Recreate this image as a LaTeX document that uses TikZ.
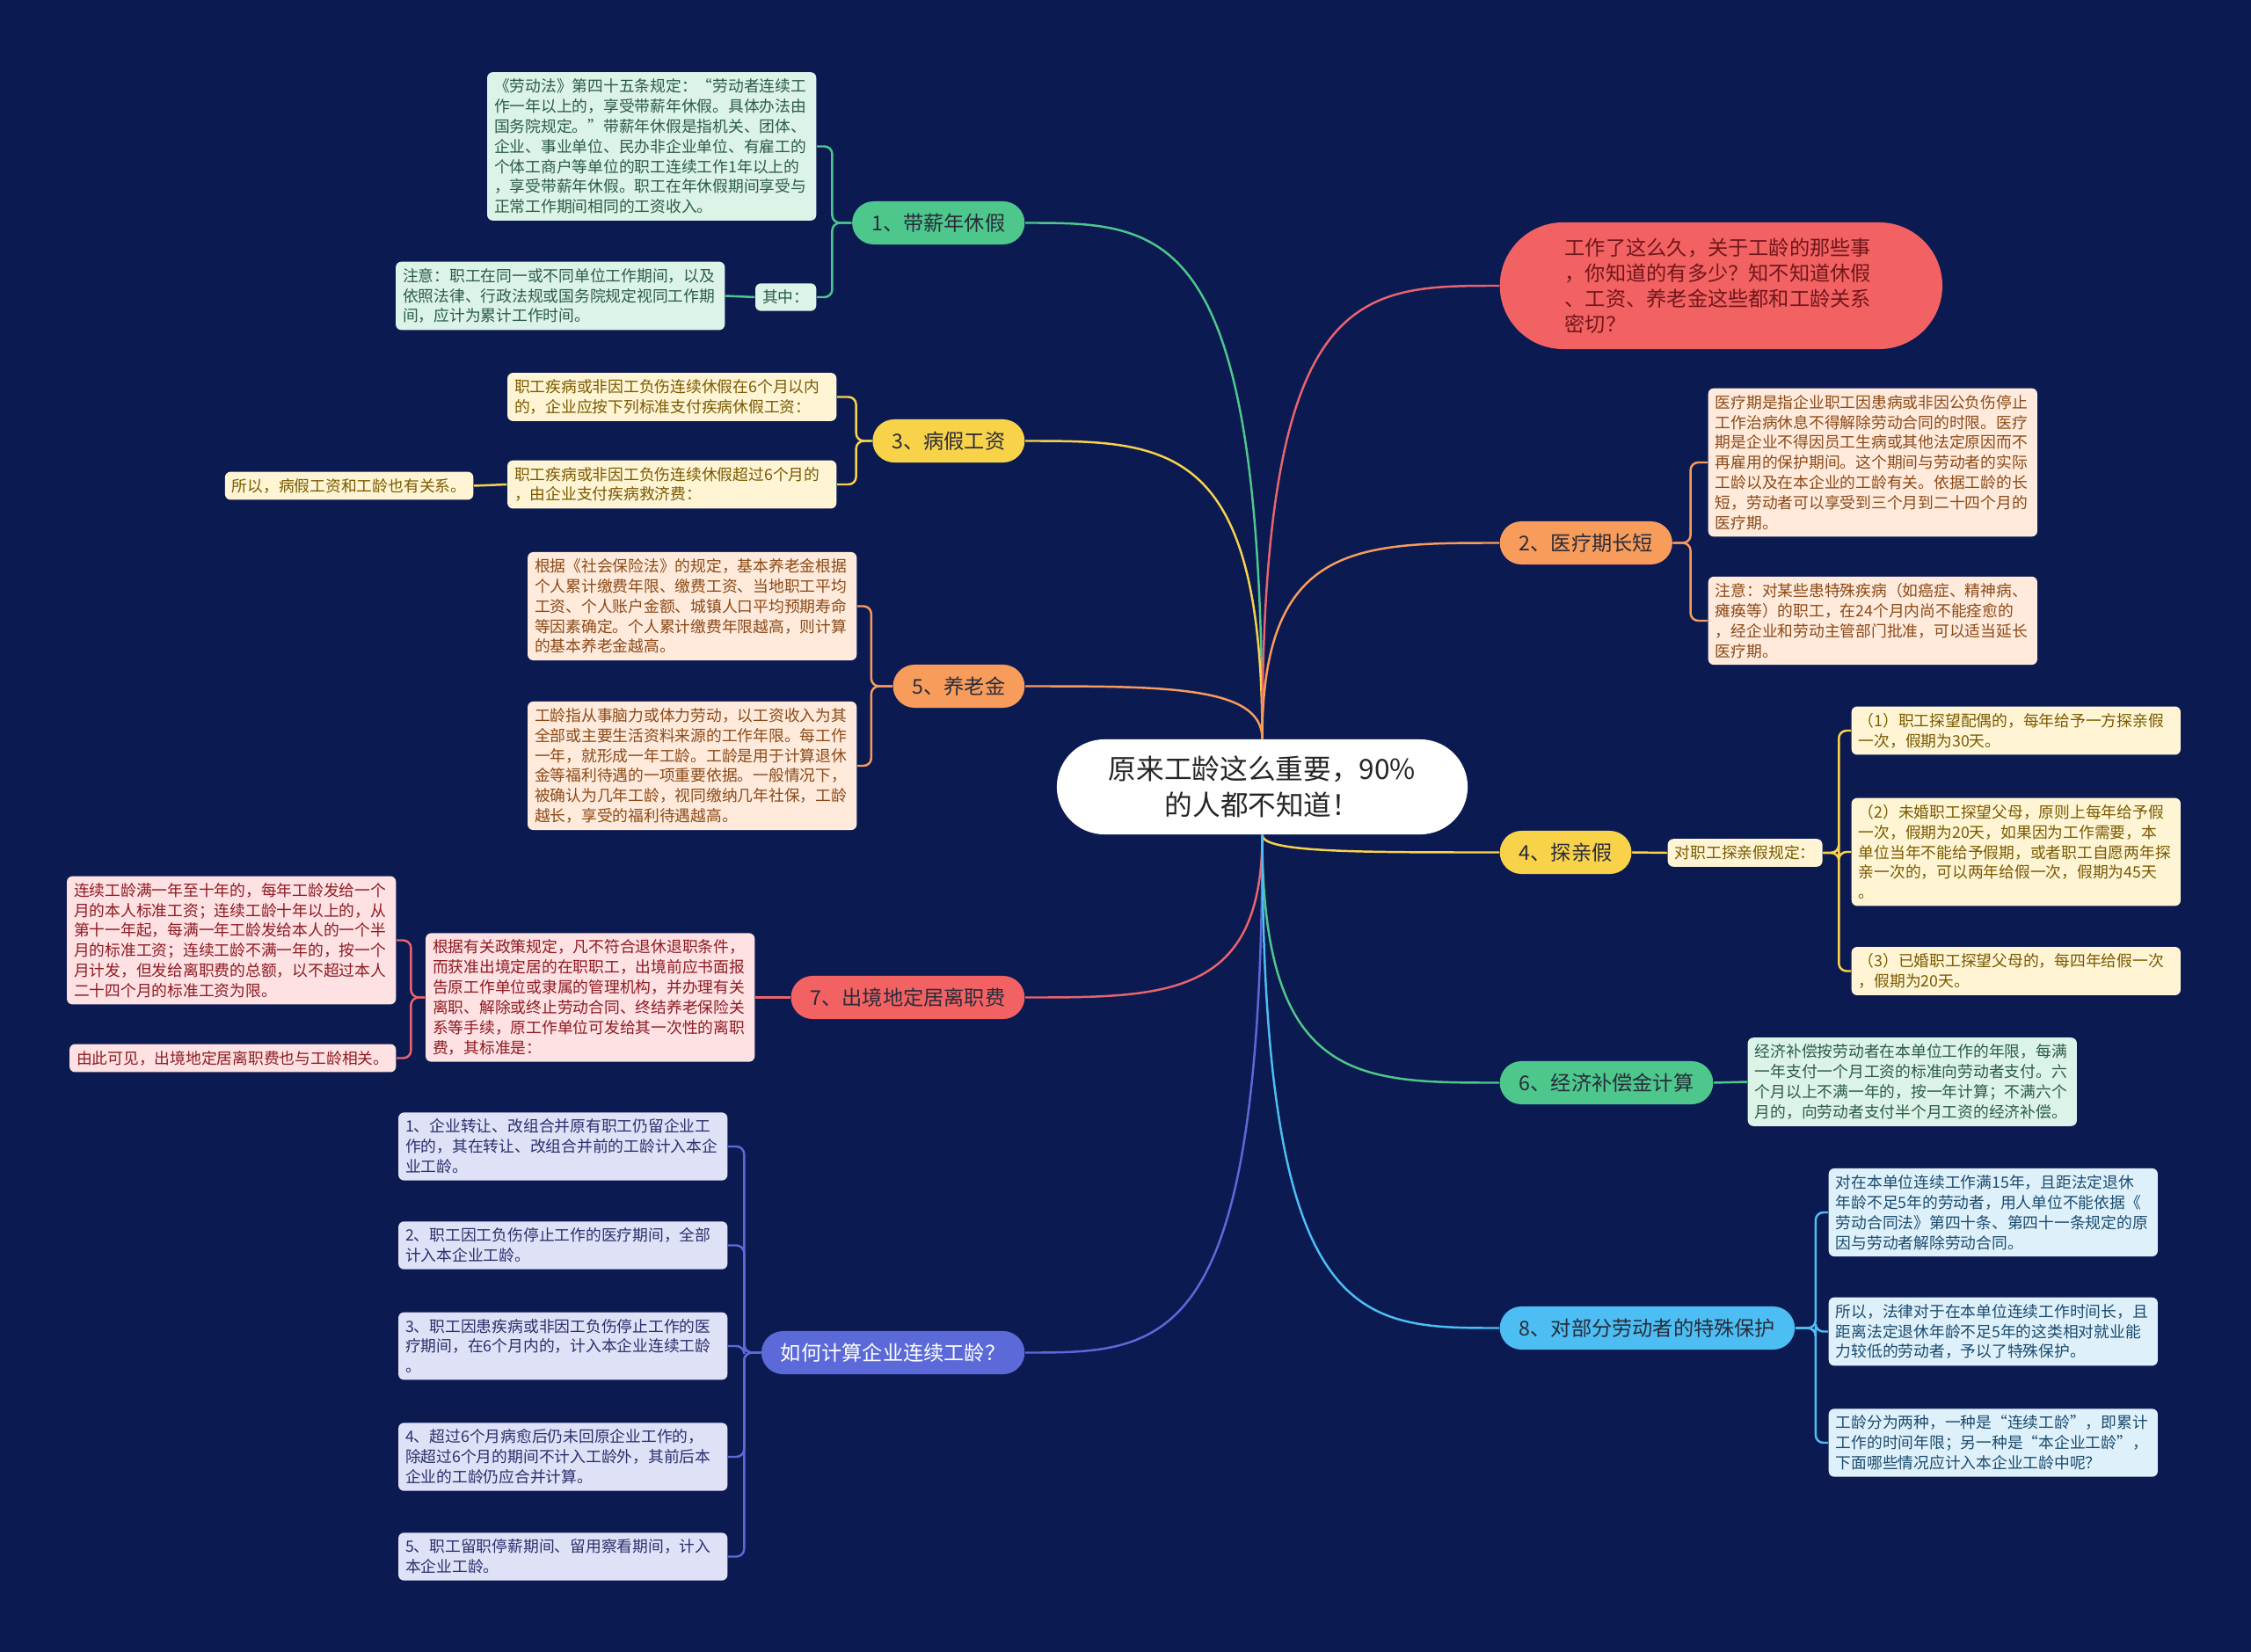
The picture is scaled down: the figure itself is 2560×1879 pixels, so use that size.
\documentclass[tikz,border=0pt]{standalone}
\usepackage{fontspec}
\newfontfamily\cjk{Noto Sans CJK SC}
\usepackage{tikz}
\usetikzlibrary{positioning,calc}
\definecolor{bgnavy}{HTML}{0C1A52}
\definecolor{mint}{HTML}{4DC78C}
\definecolor{mintpale}{HTML}{DCF4E8}
\definecolor{mintink}{HTML}{2C5B47}
\definecolor{sun}{HTML}{F8D34A}
\definecolor{sunpale}{HTML}{FFF5D5}
\definecolor{sunink}{HTML}{7A5A00}
\definecolor{apricot}{HTML}{F89C5C}
\definecolor{apricotpale}{HTML}{FFEADC}
\definecolor{apricotink}{HTML}{8B4A17}
\definecolor{coral}{HTML}{F26262}
\definecolor{coralline}{HTML}{E8646E}
\definecolor{coralpale}{HTML}{FDE1E3}
\definecolor{coralink}{HTML}{8E1B22}
\definecolor{iris}{HTML}{5B6AD8}
\definecolor{irispale}{HTML}{DFE2F7}
\definecolor{irisink}{HTML}{2A2F6C}
\definecolor{sky}{HTML}{4DBEF3}
\definecolor{skypale}{HTML}{DEF1FB}
\definecolor{skyink}{HTML}{1B4B6E}
\definecolor{pillink}{HTML}{2A2B3A}

\begin{document}
\begin{tikzpicture}[x=0.01cm, y=-0.01cm,
    leaf/.style={rounded corners=1.8pt, inner xsep=0.08cm, inner ysep=0.075cm, align=left, text width=3.58cm, font=\cjk\fontsize{5.05}{6.5}\selectfont},
    tag/.style={rounded corners=1.8pt, inner xsep=0.08cm, inner ysep=0.075cm, align=left, font=\cjk\fontsize{5.05}{6.5}\selectfont},
    pill/.style={rounded corners=0.245cm, minimum height=0.49cm, inner xsep=0.22cm, inner ysep=0pt, font=\cjk\fontsize{6.6}{8}\selectfont, text=pillink},
    link/.style={line width=0.7pt},
    bracket/.style={line width=0.7pt, rounded corners=2.5pt}]
\useasboundingbox (0,0) rectangle (2560,1879);
\fill[bgnavy] (0,0) rectangle (2560,1879);

% Center
\node[fill=white, rounded corners=0.54cm, minimum width=4.67cm, minimum height=1.08cm, align=center, text=black!85, font=\cjk\fontsize{9}{11.7}\selectfont] (ctr) at (1435.5,895) {原来工龄这么重要，90\%\\的人都不知道！};

% Left branches
\node[pill, fill=mint, anchor=east] (b1) at (1166,253.5) {1、带薪年休假};
\node[pill, fill=sun, anchor=east] (b3) at (1166,501.5) {3、病假工资};
\node[pill, fill=apricot, anchor=east] (b5) at (1166,780.5) {5、养老金};
\node[pill, fill=coral, anchor=east] (b7) at (1166,1134.5) {7、出境地定居离职费};
\node[pill, fill=iris, text=white, anchor=east] (bcalc) at (1166,1538.5) {如何计算企业连续工龄？};

% Right branches
\node[fill=coral, rounded corners=0.72cm, minimum width=5.03cm, minimum height=1.44cm, inner xsep=0.74cm, text width=3.55cm, align=left, text=coralink!80!black, font=\cjk\fontsize{6.6}{8.3}\selectfont, anchor=west] (intro) at (1705,325) {工作了这么久，关于工龄的那些事\\，你知道的有多少？知不知道休假\\、工资、养老金这些都和工龄关系\\密切？};
\node[pill, fill=apricot, anchor=west] (b2) at (1705,617.5) {2、医疗期长短};
\node[pill, fill=sun, anchor=west] (b4) at (1705,969.5) {4、探亲假};
\node[pill, fill=mint, anchor=west] (b6) at (1705,1231.5) {6、经济补偿金计算};
\node[pill, fill=sky, anchor=west] (b8) at (1705,1510.5) {8、对部分劳动者的特殊保护};

% Leaves of 1
\node[leaf, fill=mintpale, text=mintink, anchor=east] (law) at (929,166.5) {《劳动法》第四十五条规定：“劳动者连续工\\作一年以上的，享受带薪年休假。具体办法由\\国务院规定。”带薪年休假是指机关、团体、\\企业、事业单位、民办非企业单位、有雇工的\\个体工商户等单位的职工连续工作1年以上的\\，享受带薪年休假。职工在年休假期间享受与\\正常工作期间相同的工资收入。};
\node[tag, fill=mintpale, text=mintink, anchor=east] (qizhong) at (929,338) {其中：};
\node[leaf, fill=mintpale, text=mintink, anchor=east] (zhuyi) at (825,336.5) {注意：职工在同一或不同单位工作期间，以及\\依照法律、行政法规或国务院规定视同工作期\\间，应计为累计工作时间。};

% Leaves of 3
\node[leaf, fill=sunpale, text=sunink, anchor=east] (sick1) at (952,451.5) {职工疾病或非因工负伤连续休假在6个月以内\\的，企业应按下列标准支付疾病休假工资：};
\node[leaf, fill=sunpale, text=sunink, anchor=east] (sick2) at (952,551) {职工疾病或非因工负伤连续休假超过6个月的\\，由企业支付疾病救济费：};
\node[tag, fill=sunpale, text=sunink, anchor=east] (sickso) at (539,552.5) {所以，病假工资和工龄也有关系。};

% Leaves of 5
\node[leaf, fill=apricotpale, text=apricotink, anchor=east] (pension1) at (975,689.5) {根据《社会保险法》的规定，基本养老金根据\\个人累计缴费年限、缴费工资、当地职工平均\\工资、个人账户金额、城镇人口平均预期寿命\\等因素确定。个人累计缴费年限越高，则计算\\的基本养老金越高。};
\node[leaf, fill=apricotpale, text=apricotink, anchor=east] (pension2) at (975,871) {工龄指从事脑力或体力劳动，以工资收入为其\\全部或主要生活资料来源的工作年限。每工作\\一年，就形成一年工龄。工龄是用于计算退休\\金等福利待遇的一项重要依据。一般情况下，\\被确认为几年工龄，视同缴纳几年社保，工龄\\越长，享受的福利待遇越高。};

% Leaves of 7
\node[leaf, fill=coralpale, text=coralink, anchor=east] (abroad) at (859,1134.5) {根据有关政策规定，凡不符合退休退职条件，\\而获准出境定居的在职职工，出境前应书面报\\告原工作单位或隶属的管理机构，并办理有关\\离职、解除或终止劳动合同、终结养老保险关\\系等手续，原工作单位可发给其一次性的离职\\费，其标准是：};
\node[leaf, fill=coralpale, text=coralink, anchor=east] (abroad1) at (451,1069.5) {连续工龄满一年至十年的，每年工龄发给一个\\月的本人标准工资；连续工龄十年以上的，从\\第十一年起，每满一年工龄发给本人的一个半\\月的标准工资；连续工龄不满一年的，按一个\\月计发，但发给离职费的总额，以不超过本人\\二十四个月的标准工资为限。};
\node[tag, fill=coralpale, text=coralink, anchor=east] (abroad2) at (451,1203.5) {由此可见，出境地定居离职费也与工龄相关。};

% Leaves of calc
\node[leaf, fill=irispale, text=irisink, anchor=east] (calc1) at (828,1304) {1、企业转让、改组合并原有职工仍留企业工\\作的，其在转让、改组合并前的工龄计入本企\\业工龄。};
\node[leaf, fill=irispale, text=irisink, anchor=east] (calc2) at (828,1416.5) {2、职工因工负伤停止工作的医疗期间，全部\\计入本企业工龄。};
\node[leaf, fill=irispale, text=irisink, anchor=east] (calc3) at (828,1531) {3、职工因患疾病或非因工负伤停止工作的医\\疗期间，在6个月内的，计入本企业连续工龄\\。};
\node[leaf, fill=irispale, text=irisink, anchor=east] (calc4) at (828,1657) {4、超过6个月病愈后仍未回原企业工作的，\\除超过6个月的期间不计入工龄外，其前后本\\企业的工龄仍应合并计算。};
\node[leaf, fill=irispale, text=irisink, anchor=east] (calc5) at (828,1770.5) {5、职工留职停薪期间、留用察看期间，计入\\本企业工龄。};

% Leaves of 2
\node[leaf, fill=apricotpale, text=apricotink, anchor=west] (med1) at (1942,526) {医疗期是指企业职工因患病或非因公负伤停止\\工作治病休息不得解除劳动合同的时限。医疗\\期是企业不得因员工生病或其他法定原因而不\\再雇用的保护期间。这个期间与劳动者的实际\\工龄以及在本企业的工龄有关。依据工龄的长\\短，劳动者可以享受到三个月到二十四个月的\\医疗期。};
\node[leaf, fill=apricotpale, text=apricotink, anchor=west] (med2) at (1942,706) {注意：对某些患特殊疾病（如癌症、精神病、\\瘫痪等）的职工，在24个月内尚不能痊愈的\\，经企业和劳动主管部门批准，可以适当延长\\医疗期。};

% Leaves of 4
\node[tag, fill=sunpale, text=sunink, anchor=west] (visitrule) at (1896,970) {对职工探亲假规定：};
\node[leaf, fill=sunpale, text=sunink, anchor=west] (visit1) at (2105,831) {（1）职工探望配偶的，每年给予一方探亲假\\一次，假期为30天。};
\node[leaf, fill=sunpale, text=sunink, anchor=west] (visit2) at (2105,969) {（2）未婚职工探望父母，原则上每年给予假\\一次，假期为20天，如果因为工作需要，本\\单位当年不能给予假期，或者职工自愿两年探\\亲一次的，可以两年给假一次，假期为45天\\。};
\node[leaf, fill=sunpale, text=sunink, anchor=west] (visit3) at (2105,1104.5) {（3）已婚职工探望父母的，每四年给假一次\\，假期为20天。};

% Leaf of 6
\node[leaf, fill=mintpale, text=mintink, anchor=west] (comp) at (1987,1230.5) {经济补偿按劳动者在本单位工作的年限，每满\\一年支付一个月工资的标准向劳动者支付。六\\个月以上不满一年的，按一年计算；不满六个\\月的，向劳动者支付半个月工资的经济补偿。};

% Leaves of 8
\node[leaf, fill=skypale, text=skyink, anchor=west] (prot1) at (2079,1379) {对在本单位连续工作满15年，且距法定退休\\年龄不足5年的劳动者，用人单位不能依据《\\劳动合同法》第四十条、第四十一条规定的原\\因与劳动者解除劳动合同。};
\node[leaf, fill=skypale, text=skyink, anchor=west] (prot2) at (2079,1514.5) {所以，法律对于在本单位连续工作时间长，且\\距离法定退休年龄不足5年的这类相对就业能\\力较低的劳动者，予以了特殊保护。};
\node[leaf, fill=skypale, text=skyink, anchor=west] (prot3) at (2079,1641) {工龄分为两种，一种是“连续工龄”，即累计\\工作的时间年限；另一种是“本企业工龄”，\\下面哪些情况应计入本企业工龄中呢？};

% Curves from the center
\foreach \b/\c in {b1/mint, b3/sun, b5/apricot} {
    \draw[link, \c] (ctr.north) .. controls (ctr.north |- \b.east) and ($(ctr.north |- \b.east)!0.4!(\b.east)$) .. (\b.east);
}
\foreach \b/\c in {b7/coralline, bcalc/iris} {
    \draw[link, \c] (ctr.south) .. controls (ctr.south |- \b.east) and ($(ctr.south |- \b.east)!0.4!(\b.east)$) .. (\b.east);
}
\foreach \b/\c in {intro/coralline, b2/apricot} {
    \draw[link, \c] (ctr.north) .. controls (ctr.north |- \b.west) and ($(ctr.north |- \b.west)!0.4!(\b.west)$) .. (\b.west);
}
\foreach \b/\c in {b4/sun, b6/mint, b8/sky} {
    \draw[link, \c] (ctr.south) .. controls (ctr.south |- \b.west) and ($(ctr.south |- \b.west)!0.4!(\b.west)$) .. (\b.west);
}

% Brackets to the leaves
\foreach \n in {law, qizhong} \draw[bracket, mint] (b1.west) -- ++(-22,0) |- (\n.east);
\draw[link, mint] (qizhong.west) -- (zhuyi.east);
\foreach \n in {sick1, sick2} \draw[bracket, sun] (b3.west) -- ++(-18,0) |- (\n.east);
\draw[link, sun] (sick2.west) -- (sickso.east);
\foreach \n in {pension1, pension2} \draw[bracket, apricot] (b5.west) -- ++(-24,0) |- (\n.east);
\draw[link, coralline] (b7.west) -- (abroad.east);
\foreach \n in {abroad1, abroad2} \draw[bracket, coralline] (abroad.west) -- ++(-16,0) |- (\n.east);
\foreach \k in {1,...,5} \draw[bracket, iris] (bcalc.west) -- ++(-19,0) |- (calc\k.east);
\foreach \n in {med1, med2} \draw[bracket, apricot] (b2.east) -- ++(20,0) |- (\n.west);
\draw[link, sun] (b4.east) -- (visitrule.west);
\foreach \k in {1,2,3} \draw[bracket, sun] (visitrule.east) -- ++(18,0) |- (visit\k.west);
\draw[link, mint] (b6.east) -- (comp.west);
\foreach \k in {1,2,3} \draw[bracket, sky] (b8.east) -- ++(23,0) |- (prot\k.west);

\end{tikzpicture}
\end{document}
